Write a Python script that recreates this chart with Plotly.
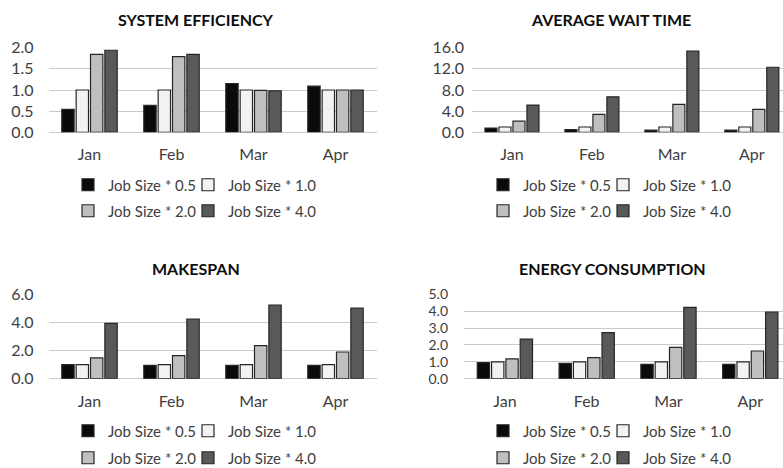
import plotly.graph_objects as go

# Categories and series
months = ["Jan", "Feb", "Mar", "Apr"]
series_names = ["Job Size * 0.5", "Job Size * 1.0", "Job Size * 2.0", "Job Size * 4.0"]
series_colors = ["#0a0a0a", "#f2f2f2", "#bfbfbf", "#595959"]

# System efficiency
eff_05 = [0.54, 0.64, 1.15, 1.09]
eff_10 = [1.0, 1.0, 1.0, 1.0]
eff_20 = [1.84, 1.79, 0.99, 1.0]
eff_40 = [1.94, 1.84, 0.98, 1.0]

# Average wait time
wait_05 = [0.8, 0.5, 0.4, 0.4]
wait_10 = [1.0, 1.0, 1.0, 1.0]
wait_20 = [2.1, 3.4, 5.3, 4.35]
wait_40 = [5.15, 6.7, 15.35, 12.3]

# Makespan
span_05 = [1.0, 0.95, 0.95, 0.95]
span_10 = [1.0, 1.0, 1.0, 1.0]
span_20 = [1.47, 1.63, 2.34, 1.89]
span_40 = [3.92, 4.23, 5.22, 5.01]

# Energy consumption
energy_05 = [0.95, 0.91, 0.85, 0.85]
energy_10 = [1.0, 1.0, 1.0, 1.0]
energy_20 = [1.17, 1.25, 1.86, 1.64]
energy_40 = [2.35, 2.73, 4.23, 3.95]

titles = ["SYSTEM EFFICIENCY", "AVERAGE WAIT TIME", "MAKESPAN", "ENERGY CONSUMPTION"]
y_max = [2.0, 16.0, 6.0, 5.0]
y_step = [0.5, 4.0, 2.0, 1.0]

panels = [
    [eff_05, eff_10, eff_20, eff_40],
    [wait_05, wait_10, wait_20, wait_40],
    [span_05, span_10, span_20, span_40],
    [energy_05, energy_10, energy_20, energy_40],
]

W, H = 783, 468
FONT = "Lato, Carlito, Calibri, sans-serif"
TEXT = "#404040"
GRID = "#cacaca"


def xdom(left, right):
    return [left / W, min(right / W, 1.0)]


def ydom(top, bottom):
    return [1 - bottom / H, 1 - top / H]


# Panel geometry in pixels: plot left/right, top/bottom, x range end, label standoff, title centre
geom = [
    dict(x=(48.5, 376.5), y=(47.7, 132.3), xend=3.5, ystand=14, tick=16, title=(196, 20)),
    dict(x=(472, 783), y=(47.7, 132.3), xend=3.39, ystand=7, tick=16, title=(611, 20)),
    dict(x=(48.5, 376.5), y=(294.0, 378.7), xend=3.5, ystand=14, tick=16, title=(196, 268)),
    dict(x=(464, 783), y=(294.3, 378.7), xend=3.40, ystand=15, tick=14, title=(612, 268)),
]
# Legend key grid per panel: column left edges and row centres (pixels)
legend_pos = [
    dict(cols=(68, 188), rows=(185, 211)),
    dict(cols=(483, 603), rows=(185, 211)),
    dict(cols=(68, 188), rows=(431, 458)),
    dict(cols=(483, 603), rows=(431, 458)),
]

fig = go.Figure()
layout = dict(
    width=W, height=H, autosize=False,
    margin=dict(l=0, r=0, t=0, b=0, autoexpand=False),
    paper_bgcolor="white", plot_bgcolor="white",
    barmode="group", bargap=0.3, bargroupgap=0.14,
    font=dict(family=FONT, color=TEXT, size=15),
    showlegend=True,
    annotations=[],
)

for p in range(4):
    ax = "" if p == 0 else str(p + 1)
    g = geom[p]
    lp = legend_pos[p]
    for s in range(4):
        leg_idx = 4 * p + s
        leg_name = "legend" if leg_idx == 0 else f"legend{leg_idx + 1}"
        fig.add_trace(go.Bar(
            x=months, y=panels[p][s], name=series_names[s],
            marker=dict(color=series_colors[s], line=dict(color="#262626", width=1.2)),
            xaxis="x" + ax, yaxis="y" + ax,
            legend=leg_name, showlegend=True,
        ))
        layout[leg_name] = dict(
            orientation="h", x=lp["cols"][s % 2] / W, xanchor="left",
            y=1 - lp["rows"][s // 2] / H, yanchor="middle",
            bgcolor="rgba(0,0,0,0)", borderwidth=0,
            font=dict(family=FONT, size=15, color=TEXT),
            itemwidth=30, traceorder="normal",
            itemclick=False, itemdoubleclick=False,
        )
    layout["xaxis" + ax] = dict(
        domain=xdom(*g["x"]), anchor="y" + ax,
        range=[-0.5, g["xend"]], type="category",
        showgrid=False, showline=False, ticks="", zeroline=False,
        tickfont=dict(family=FONT, size=16, color=TEXT),
        ticklabelstandoff=11, fixedrange=True,
    )
    layout["yaxis" + ax] = dict(
        domain=ydom(*g["y"]), anchor="x" + ax,
        range=[0, y_max[p]], dtick=y_step[p], tick0=0, tickformat=".1f",
        showgrid=True, gridcolor=GRID, gridwidth=1.2,
        zeroline=True, zerolinecolor=GRID, zerolinewidth=1.2,
        showline=False, ticks="",
        tickfont=dict(family=FONT, size=g["tick"], color=TEXT),
        ticklabelstandoff=g["ystand"], fixedrange=True,
    )
    tx, ty = g["title"]
    layout["annotations"].append(dict(
        text=titles[p], x=tx / W, y=1 - ty / H, xref="paper", yref="paper",
        xanchor="center", yanchor="middle", showarrow=False,
        font=dict(family=FONT, size=16, color="#0d0d0d", weight="bold"),
    ))

fig.update_layout(**layout)
fig.write_html("out.html")
